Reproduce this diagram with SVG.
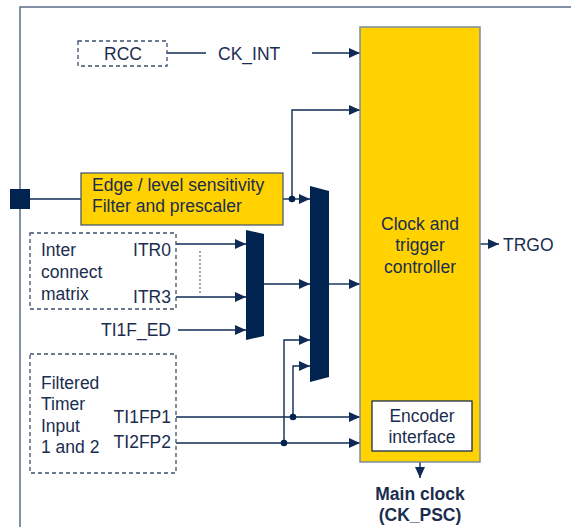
<svg xmlns="http://www.w3.org/2000/svg" width="571" height="527" viewBox="0 0 571 527">
<style>
text{font-family:"Liberation Sans",Arial,sans-serif;font-size:17.5px;fill:#1b2d4f}
.b{font-weight:bold}
.m{text-anchor:middle}
.e{text-anchor:end}
.ln{stroke:#0f2a55;stroke-width:1.4;fill:none}
.dash{fill:#fff;stroke:#3c4f6e;stroke-width:1.3;stroke-dasharray:4 3}
.mux{fill:#00234f}
.dot{fill:#00234f}
</style>
<defs>
<marker id="ah" markerUnits="userSpaceOnUse" markerWidth="12" markerHeight="10" refX="11" refY="5" orient="auto">
<path d="M0,0 L11,5 L0,10 Z" fill="#0f2a55"/>
</marker>
</defs>
<rect width="571" height="527" fill="#fff"/>
<g id="frame">
<path d="M20,527 V7 H571" fill="none" stroke="#5a6b87" stroke-width="1.5"/>
</g>
<g id="pin"><rect x="10" y="189" width="20" height="20" fill="#00234f"/></g>
<g id="connectors">
<path class="ln" d="M30,199 H81"/>
<path class="ln" d="M167,53 H206"/>
<path class="ln" d="M312,53 H360" marker-end="url(#ah)"/>
<path class="ln" d="M283,199 H310" marker-end="url(#ah)"/>
<path class="ln" d="M292,199 V110 H360" marker-end="url(#ah)"/>
<path class="ln" d="M176,244 H246" marker-end="url(#ah)"/>
<path class="ln" d="M176,297 H246" marker-end="url(#ah)"/>
<path class="ln" d="M178,330 H246" marker-end="url(#ah)"/>
<path d="M200,251 V293" fill="none" stroke="#5a6b87" stroke-width="1.2" stroke-dasharray="2 2"/>
<path class="ln" d="M264,284 H310" marker-end="url(#ah)"/>
<path class="ln" d="M329,284 H360" marker-end="url(#ah)"/>
<path class="ln" d="M176,417 H360" marker-end="url(#ah)"/>
<path class="ln" d="M176,443 H360" marker-end="url(#ah)"/>
<path class="ln" d="M293,417 V366 H310" marker-end="url(#ah)"/>
<path class="ln" d="M284,443 V340 H310" marker-end="url(#ah)"/>
<path class="ln" d="M480,244 H499" marker-end="url(#ah)"/>
<path class="ln" d="M420,462 V478" marker-end="url(#ah)"/>
<circle class="dot" cx="292" cy="199" r="3.3"/>
<circle class="dot" cx="293" cy="417" r="3.3"/>
<circle class="dot" cx="284" cy="443" r="3.3"/>
</g>
<g id="rcc">
<rect class="dash" x="78" y="41" width="89" height="25"/>
<text class="m" x="123" y="60">RCC</text>
</g>
<g id="ckint"><text x="218" y="60">CK_INT</text></g>
<g id="edge">
<rect x="81" y="173" width="202" height="52" fill="#ffd200" stroke="#3c4f6e" stroke-width="1.2"/>
<text x="92" y="191">Edge / level sensitivity</text>
<text x="92" y="212">Filter and prescaler</text>
</g>
<g id="itm">
<rect class="dash" x="30" y="233" width="146" height="76"/>
<text x="41" y="256">Inter</text>
<text x="41" y="278">connect</text>
<text x="41" y="300">matrix</text>
<text class="e" x="171" y="256">ITR0</text>
<text class="e" x="171" y="303">ITR3</text>
</g>
<g id="ti1fed"><text class="e" x="171" y="336">TI1F_ED</text></g>
<g id="fti">
<rect class="dash" x="30" y="354" width="146" height="119"/>
<text x="41" y="389">Filtered</text>
<text x="41" y="410">Timer</text>
<text x="41" y="432">Input</text>
<text x="41" y="453">1 and 2</text>
<text class="e" x="171" y="423">TI1FP1</text>
<text class="e" x="171" y="448">TI2FP2</text>
</g>
<g id="mux1"><path class="mux" d="M246,230 L264,234 V336 L246,340 Z"/></g>
<g id="mux2"><path class="mux" d="M310,186 L329,191 V377 L310,382 Z"/></g>
<g id="ctrl">
<rect x="360" y="27" width="120" height="435" fill="#ffd200" stroke="#7d8ca3" stroke-width="1.5"/>
<text class="m" x="420" y="230">Clock and</text>
<text class="m" x="420" y="251">trigger</text>
<text class="m" x="420" y="273">controller</text>
</g>
<g id="encoder">
<rect x="372" y="401" width="100" height="50" fill="#fff" stroke="#1b2d4f" stroke-width="1.3"/>
<text class="m" x="422" y="422">Encoder</text>
<text class="m" x="422" y="443">interface</text>
</g>
<g id="trgo"><text x="503" y="251">TRGO</text></g>
<g id="mainclk">
<text class="m b" x="420" y="500">Main clock</text>
<text class="m b" x="420" y="521">(CK_PSC)</text>
</g>
</svg>
